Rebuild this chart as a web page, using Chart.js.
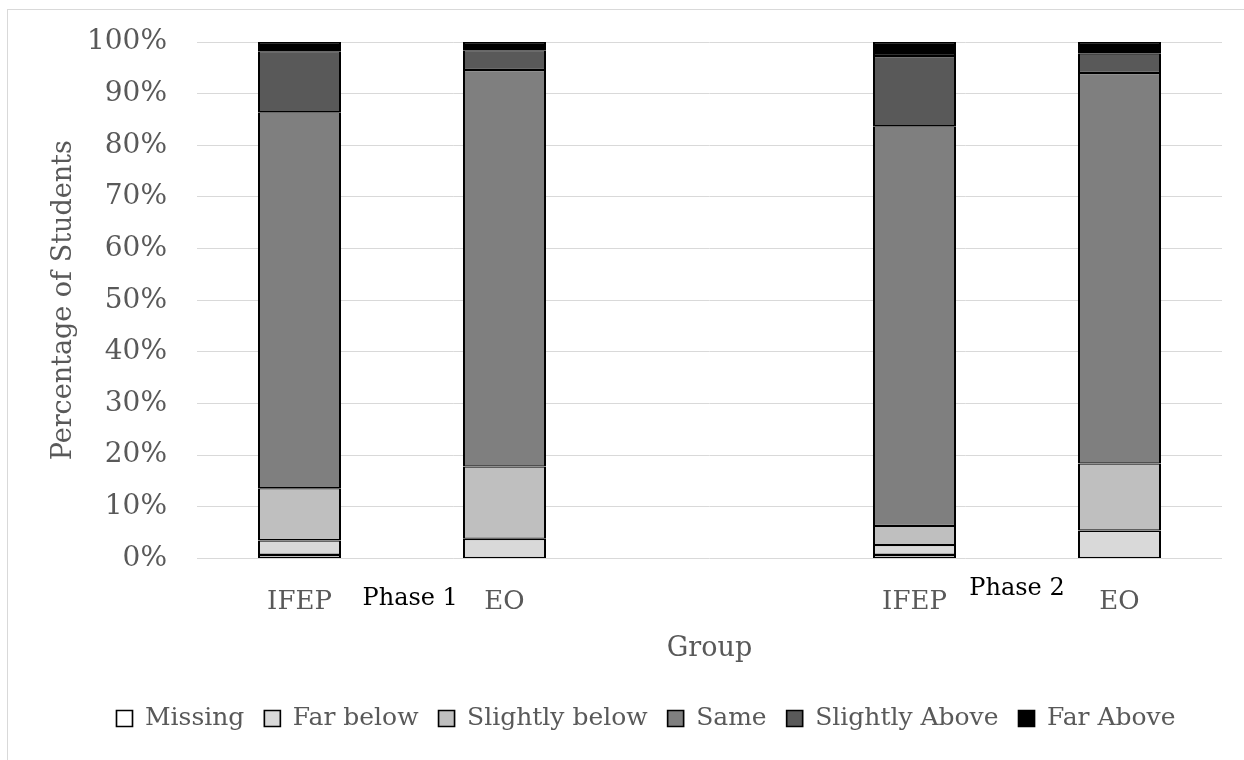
<!DOCTYPE html>
<html>
<head>
<meta charset="utf-8">
<title>Percentage of Students by Group</title>
<script src="https://cdn.jsdelivr.net/npm/chart.js@4.4.1/dist/chart.umd.min.js"></script>
<style>
    html, body { margin: 0; padding: 0; background: #ffffff; overflow: hidden; }
    #frame {
        position: absolute; left: 7px; top: 9px; width: 1400px; height: 900px;
        border-left: 1px solid #d9d9d9; border-top: 1px solid #d9d9d9;
    }
    #chart { position: absolute; left: 0; top: 0; }
</style>
</head>
<body>
<div id="frame"></div>
<canvas id="chart" width="1244" height="760"></canvas>
<script>
// Categories (empty slot separates the two phases)
const groups = ['IFEP', 'EO', '', 'IFEP', 'EO'];
const phaseLabels = ['Phase 1', 'Phase 2'];
const phaseAt = [0.54, 3.5];

// Percent of students per group
const missing       = [0.7, 0,    null, 0.7,  0];
const farBelow      = [2.8, 3.8,  null, 1.9,  5.4];
const slightlyBelow = [10.1, 14.0, null, 3.7, 13.0];
const same          = [72.8, 76.8, null, 77.4, 75.6];
const slightlyAbove = [11.8, 3.8, null, 13.6, 3.8];
const farAbove      = [1.8, 1.6,  null, 2.7,  2.2];

const yTicks = [0, 10, 20, 30, 40, 50, 60, 70, 80, 90, 100];

const textGrey = '#595959';
const serif = "'DejaVu Serif', 'Liberation Serif', serif";

function makeSet(label, data, color) {
    return {
        label: label,
        data: data,
        backgroundColor: color,
        borderColor: '#000000',
        borderWidth: { left: 2, right: 2, top: 1.3, bottom: 1.3 },
        borderSkipped: false,
        barPercentage: 0.405,
        categoryPercentage: 1.0
    };
}

// Draws the free-floating "Phase" captions under the category labels
const phasePlugin = {
    id: 'phaseLabels',
    afterDraw(chart) {
        const ctx = chart.ctx;
        const x = chart.scales.x;
        const base = chart.chartArea.bottom;
        const offsets = [40, 30];
        ctx.save();
        ctx.font = '24px ' + serif;
        ctx.fillStyle = '#000000';
        ctx.textAlign = 'center';
        ctx.textBaseline = 'middle';
        phaseLabels.forEach((t, i) => {
            ctx.fillText(t, x.getPixelForValue(phaseAt[i]), base + offsets[i]);
        });
        ctx.restore();
    }
};

new Chart(document.getElementById('chart'), {
    type: 'bar',
    data: {
        labels: groups,
        datasets: [
            makeSet('Missing', missing, '#ffffff'),
            makeSet('Far below', farBelow, '#d9d9d9'),
            makeSet('Slightly below', slightlyBelow, '#bfbfbf'),
            makeSet('Same', same, '#7f7f7f'),
            makeSet('Slightly Above', slightlyAbove, '#595959'),
            makeSet('Far Above', farAbove, '#000000')
        ]
    },
    plugins: [phasePlugin],
    options: {
        responsive: false,
        devicePixelRatio: 1,
        animation: false,
        layout: {
            padding: { left: 70, right: 22, top: 42, bottom: 19 }
        },
        plugins: {
            tooltip: { enabled: false },
            legend: {
                position: 'bottom',
                labels: {
                    color: textGrey,
                    font: { family: serif, size: 25 },
                    boxWidth: 16,
                    boxHeight: 16,
                    padding: 20
                }
            }
        },
        scales: {
            x: {
                stacked: true,
                grid: { display: false, drawTicks: false },
                border: { display: false },
                ticks: {
                    color: textGrey,
                    font: { family: serif, size: 26 },
                    padding: 28,
                    maxRotation: 0,
                    autoSkip: false
                },
                title: {
                    display: true,
                    text: 'Group',
                    color: textGrey,
                    font: { family: serif, size: 27 },
                    padding: { top: 0, bottom: 21 }
                },
                afterFit(scale) { scale.height = 127.5; }
            },
            y: {
                stacked: true,
                min: 0,
                max: 100,
                afterBuildTicks(scale) {
                    scale.ticks = yTicks.map(v => ({ value: v }));
                },
                grid: { color: '#d9d9d9', lineWidth: 1, drawTicks: false },
                border: { display: false },
                ticks: {
                    color: textGrey,
                    font: { family: serif, size: 28 },
                    padding: 30,
                    callback: v => v + '%'
                },
                title: {
                    display: true,
                    text: 'Percentage of Students',
                    color: textGrey,
                    font: { family: serif, size: 27 },
                    padding: { top: -22, bottom: 0 }
                },
                afterFit(scale) {
                    scale.width = 127;
                    // tick padding should not push the plot area down
                    scale.paddingTop = 0;
                    scale.paddingBottom = 0;
                }
            }
        }
    }
});
</script>
</body>
</html>
